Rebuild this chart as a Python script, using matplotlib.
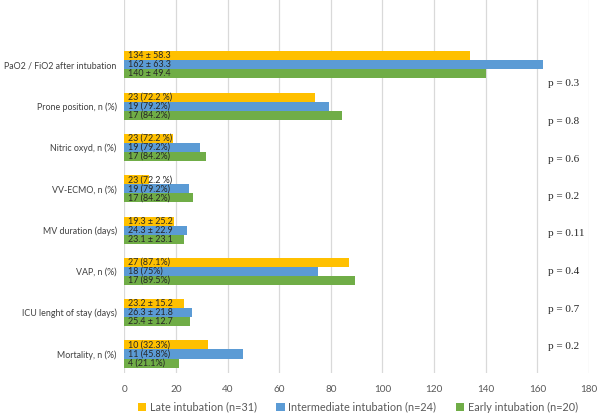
import matplotlib
matplotlib.use("Agg")
import matplotlib.pyplot as plt
import numpy as np

categories = ["PaO2 / FiO2 after intubation", "Prone position, n (%)", "Nitric oxyd, n (%)",
              "VV-ECMO, n (%)", "MV duration (days)", "VAP, n (%)",
              "ICU lenght of stay (days)", "Mortality, n (%)"]
series_names = ["Late intubation (n=31)", "Intermediate intubation (n=24)", "Early intubation (n=20)"]
late = [134, 74, 19, 9.4, 19.3, 87.1, 23.2, 32.3]
inter = [162, 79.2, 29.2, 24.9, 24.3, 75, 26.3, 45.8]
early = [140, 84.2, 31.5, 26.5, 23.1, 89.5, 25.4, 21.1]
late_labels = ["134 ± 58.3", "23 (72.2 %)", "23 (72.2 %)", "23 (72.2 %)", "19.3 ± 25.2",
               "27 (87.1%)", "23.2 ± 15.2", "10 (32.3%)"]
inter_labels = ["162 ± 63.3", "19 (79.2%)", "19 (79.2%)", "19 (79.2%)", "24.3 ± 22.9",
                "18 (75%)", "26.3 ± 21.8", "11 (45.8%)"]
early_labels = ["140 ± 49.4", "17 (84.2%)", "17 (84.2%)", "17 (84.2%)", "23.1 ± 23.1",
                "17 (89.5%)", "25.4 ± 12.7", "4 (21.1%)"]
pvals = ["p = 0.3", "p = 0.8", "p = 0.6", "p = 0.2", "p = 0.11", "p = 0.4", "p = 0.7", "p = 0.2"]
xticks = [0, 20, 40, 60, 80, 100, 120, 140, 160, 180]

colors = ["#FFC000", "#5B9BD5", "#70AD47"]
font = "Lato"

fig = plt.figure(figsize=(5.97, 4.16), dpi=100)
ax = fig.add_axes([124.3 / 597, (416 - 373) / 416, 464.7 / 597, 373 / 416])

n = len(categories)
y = np.arange(n)[::-1].astype(float)
h = 0.218
offsets = [h, 0, -h]
for vals, labs, col, off, name in zip([late, inter, early],
                                      [late_labels, inter_labels, early_labels],
                                      colors, offsets, series_names):
    ax.barh(y + off, vals, height=h, color=col, label=name, zorder=2)
    for yi, lab in zip(y, labs):
        ax.text(1.3, yi + off, lab, fontsize=6.4, color="#262626", va="center",
                ha="left", family=font, zorder=3)

ax.set_xlim(0, 180)
ax.set_ylim(-0.46, 8.57)
ax.set_xticks(xticks)
ax.set_xticklabels([str(t) for t in xticks], fontsize=7.2, color="#595959", family=font)
ax.set_yticks(y)
ax.set_yticklabels(categories, fontsize=6.4, color="#404040", family=font)
ax.tick_params(axis="both", length=0)
ax.tick_params(axis="y", pad=5.5)
ax.tick_params(axis="x", pad=9)
ax.grid(axis="x", color="#D9D9D9", linewidth=0.9, zorder=0)
for s in ax.spines.values():
    s.set_visible(False)

p_y = [84, 121.7, 159, 196.7, 234, 271.7, 309, 346.7]
for py, p in zip(p_y, pvals):
    fig.text(548 / 597, 1 - py / 416, p, fontsize=8, family="Liberation Serif",
             color="#262626", va="center", ha="left")

leg = fig.legend(loc="center", bbox_to_anchor=(358 / 597, 1 - 407 / 416), ncol=3,
                 frameon=False, handlelength=0.75, handleheight=0.75, handletextpad=0.35,
                 columnspacing=1.8, prop={"family": font, "size": 7.8})
for t in leg.get_texts():
    t.set_color("#595959")

fig.savefig("out.png", dpi=100)
